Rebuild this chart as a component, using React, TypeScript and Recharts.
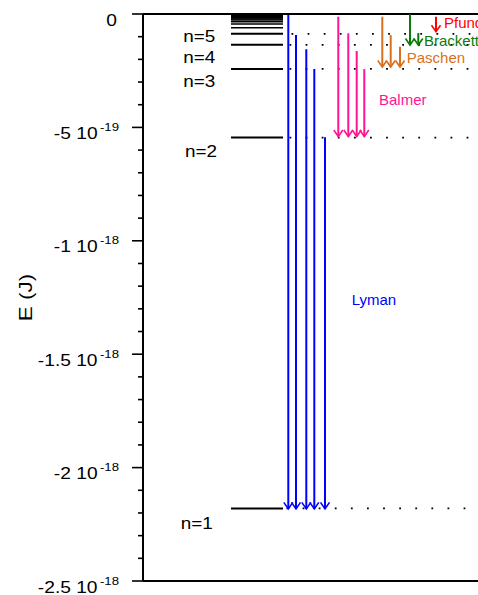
import React from "react";
import { ComposedChart, Line, XAxis, YAxis, Scatter, ReferenceLine } from "recharts";

// ---------------- Data (energies in J) ----------------
const levelNumbers = [1, 2, 3, 4, 5, 6, 7, 8, 9, 10, 11, 12, 13, 14, 15, 16, 17, 18, 19, 20];
const levelEnergies = [
  -2.18e-18, -5.45e-19, -2.42e-19, -1.36e-19, -8.72e-20, -6.06e-20, -4.45e-20, -3.41e-20,
  -2.69e-20, -2.18e-20, -1.8e-20, -1.51e-20, -1.29e-20, -1.11e-20, -9.7e-21, -8.5e-21,
  -7.5e-21, -6.7e-21, -6.0e-21, -5.5e-21,
];
const levelLabels = ["n=1", "n=2", "n=3", "n=4", "n=5"];
const levelLabelEnergies = [-2.272e-18, -6.3e-19, -3.24e-19, -2.18e-19, -1.22e-19];

const seriesNames = ["Lyman", "Balmer", "Paschen", "Brackett", "Pfund"];
const seriesColors = ["#0000ff", "#ff1493", "#d9701e", "#0a7a0a", "#ff0000"];
const lymanFrom = [-4.4e-21, -9.3e-20, -1.55e-19, -2.43e-19, -5.43e-19];
const lymanTo = -2.182e-18;
const balmerFrom = [-1.2e-20, -8.5e-20, -1.63e-19, -2.43e-19];
const balmerTo = -5.4e-19;
const paschenFrom = [-1.2e-20, -9.3e-20, -1.44e-19];
const paschenTo = -2.34e-19;
const brackettFrom = [-1e-21, -8.4e-20];
const brackettTo = -1.37e-19;
const pfundFrom = [-1.2e-20];
const pfundTo = -7.8e-20;
const seriesLabelEnergies = [-1.281e-18, -4.02e-19, -2.18e-19, -1.4e-19, -6.3e-20];

const majorTickValues = [0, -5e-19, -1e-18, -1.5e-18, -2e-18, -2.5e-18];
const majorTickMantissa = ["0", "-5 10", "-1 10", "-1.5 10", "-2 10", "-2.5 10"];
const majorTickExponent = ["", "-19", "-18", "-18", "-18", "-18"];
const allTickValues = Array.from({ length: 26 }, (_, i) => -i * 1e-19);

// ---------------- Layout (horizontal positions, arbitrary units) ----------------
const X_DOMAIN: [number, number] = [0, 335];
const LEVEL_X = [88, 140];
const DOT_END = 335;
const dotStarts = [143.5, 146.5, 146.5, 146.5, 148.5];
const levelLabelX = [37.7, 42, 40.3, 40.3, 40.3];
const seriesColumns = [
  [145.3, 153, 163.3, 171.3, 182],
  [195.3, 205.3, 213.7, 221.3],
  [239.3, 247.7, 257],
  [267, 275.3],
  [293],
];
const seriesLabelX = [208.7, 236, 263.7, 281, 301];

const FONT = "'Liberation Sans', Arial, Helvetica, sans-serif";

const seriesFrom = [lymanFrom, balmerFrom, paschenFrom, brackettFrom, pfundFrom];
const seriesTo = [lymanTo, balmerTo, paschenTo, brackettTo, pfundTo];

const AxisTick = (props: any) => {
  const { x, y, payload } = props;
  const v = payload.value;
  const mi = majorTickValues.findIndex((m) => Math.abs(m - v) < 1e-21);
  const major = mi >= 0;
  const exp = major ? majorTickExponent[mi] : "";
  return (
    <g>
      <line x1={x - (major ? 11 : 5)} x2={x} y1={y} y2={y} stroke="#000" strokeWidth={1.6} />
      {major && (
        <text
          transform={`translate(${x - (exp ? 24 : 26)},${y + 11.5}) scale(1.2,1)`}
          textAnchor="end"
          fontSize={16}
          fontFamily={FONT}
          fill="#000"
        >
          <tspan>{majorTickMantissa[mi]}</tspan>
          {exp ? (
            <tspan dx={2} dy={-8} fontSize={11}>
              {exp}
            </tspan>
          ) : null}
        </text>
      )}
    </g>
  );
};

const arrowHead = (color: string) => (p: any) =>
  p.index === 1 ? (
    <path
      key={p.key}
      d={`M${p.cx - 4.5},${p.cy - 6.5} L${p.cx},${p.cy} L${p.cx + 4.5},${p.cy - 6.5}`}
      fill="none"
      stroke={color}
      strokeWidth={1.6}
    />
  ) : (
    <g key={p.key} />
  );

const levelLabelData = levelLabels.map((t, i) => ({ x: levelLabelX[i], y: levelLabelEnergies[i], t }));
const seriesLabelData = seriesNames.map((t, i) => ({ x: seriesLabelX[i], y: seriesLabelEnergies[i], t, c: seriesColors[i] }));

export default function App() {
  return (
    <div
      style={{
        position: "fixed",
        left: 0,
        top: 0,
        width: 478,
        height: 595,
        overflow: "hidden",
        background: "#fff",
      }}
    >
      <div style={{ position: "absolute", left: 8, top: 8, width: 470, height: 587 }}>
        <ComposedChart width={470} height={587} margin={{ top: 6, right: 0, bottom: 14, left: 0 }}>
          <XAxis type="number" dataKey="x" domain={X_DOMAIN} hide allowDataOverflow />
          <YAxis
            type="number"
            domain={[-2.5e-18, 0]}
            ticks={allTickValues}
            interval={0}
            width={135}
            tickSize={0}
            tickMargin={0}
            tickLine={false}
            axisLine={{ stroke: "#000", strokeWidth: 2 }}
            tick={<AxisTick />}
            allowDataOverflow
            label={{
              content: (p: any) => {
                const vb = p.viewBox || { x: 0, y: 6, width: 135, height: 567 };
                const cx = vb.x + 18;
                const cy = vb.y + vb.height / 2;
                return (
                  <text
                    transform={`translate(${cx},${cy}) rotate(-90) scale(1.25,1)`}
                    textAnchor="middle"
                    dominantBaseline="central"
                    fontSize={18}
                    fontFamily={FONT}
                    fill="#000"
                  >
                    E (J)
                  </text>
                );
              },
            }}
          />
          <ReferenceLine y={0} stroke="#000" strokeWidth={2} />
          <ReferenceLine y={-2.5e-18} stroke="#000" strokeWidth={2} />

          {levelNumbers.slice(0, 5).map((n, i) => (
            <Line
              key={`dot-${n}`}
              data={[
                { x: dotStarts[i], y: levelEnergies[i] },
                { x: DOT_END, y: levelEnergies[i] },
              ]}
              dataKey="y"
              stroke="#000"
              strokeWidth={1.8}
              strokeDasharray="1.8 14.3"
              dot={false}
              activeDot={false}
              isAnimationActive={false}
              legendType="none"
            />
          ))}

          {levelNumbers.map((n, i) => (
            <Line
              key={`lvl-${n}`}
              data={[
                { x: LEVEL_X[0], y: levelEnergies[i] },
                { x: LEVEL_X[1], y: levelEnergies[i] },
              ]}
              dataKey="y"
              stroke="#000"
              strokeWidth={n <= 5 ? 2 : 1.5}
              dot={false}
              activeDot={false}
              isAnimationActive={false}
              legendType="none"
            />
          ))}

          {seriesFrom.map((froms, s) =>
            froms.map((e, j) => (
              <Line
                key={`arr-${s}-${j}`}
                data={[
                  { x: seriesColumns[s][j], y: e },
                  { x: seriesColumns[s][j], y: seriesTo[s] },
                ]}
                dataKey="y"
                stroke={seriesColors[s]}
                strokeWidth={2}
                dot={arrowHead(seriesColors[s])}
                activeDot={false}
                isAnimationActive={false}
                legendType="none"
              />
            ))
          )}

          <Scatter
            data={levelLabelData}
            dataKey="y"
            isAnimationActive={false}
            legendType="none"
            shape={(p: any) => (
              <text
                transform={`translate(${p.cx},${p.cy}) scale(1.18,1)`}
                fontSize={16}
                fontFamily={FONT}
                fill="#000"
              >
                {p.payload.t}
              </text>
            )}
          />
          <Scatter
            data={seriesLabelData}
            dataKey="y"
            isAnimationActive={false}
            legendType="none"
            shape={(p: any) => (
              <text x={p.cx} y={p.cy} fontSize={15} fontFamily={FONT} fill={p.payload.c}>
                {p.payload.t}
              </text>
            )}
          />
        </ComposedChart>
      </div>
    </div>
  );
}
